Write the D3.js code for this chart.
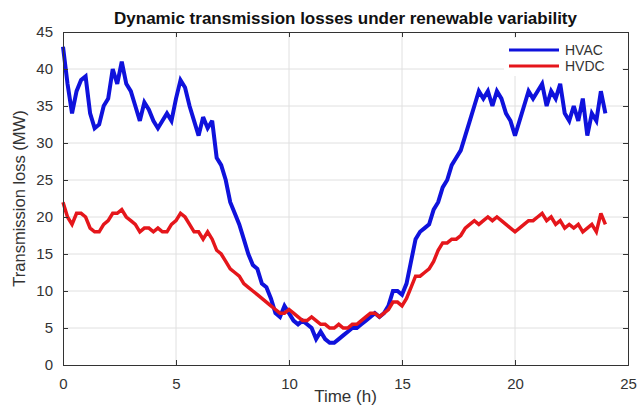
<!DOCTYPE html>
<html>
<head>
<meta charset="utf-8">
<script src="https://cdn.jsdelivr.net/npm/d3@7"></script>
<style>
  html, body { margin: 0; padding: 0; background: #fff; }
  svg { display: block; font-family: "Liberation Sans", Arial, sans-serif; }
</style>
</head>
<body>
<svg id="chart" width="640" height="407"></svg>
<script>
// Time axis, sampled every 0.2 h over one day
const timeStep = 0.2;
const seriesNames = ["HVAC", "HVDC"];
const xTicks = [0, 5, 10, 15, 20, 25];
const yTicks = [0, 5, 10, 15, 20, 25, 30, 35, 40, 45];

// Transmission loss (MW)
const hvac = [
  43, 38, 34, 37, 38.5, 39, 34, 32, 32.5, 35,
  36, 40, 38, 41, 38, 37, 35, 33, 35.5, 34.5,
  33, 32, 33, 34, 33, 36, 38.5, 37.5, 35, 33,
  31, 33.5, 32, 33, 28, 27, 25, 22, 20.5, 19,
  17, 15, 13.5, 13, 11, 10.5, 9, 7, 6.5, 8,
  7, 6, 5.5, 6, 5.5, 5, 3.5, 4.5, 3.5, 3,
  3, 3.5, 4, 4.5, 5, 5, 5.5, 6, 6.5, 7,
  6.5, 7, 8, 10, 10, 9.5, 11, 14, 17, 18,
  18.5, 19, 21, 22, 24, 25, 27, 28, 29, 31,
  33, 35, 37, 36, 37, 35, 37, 36, 34, 33,
  31, 33, 35, 37, 36, 37, 38, 35, 37, 36,
  38, 34, 33, 35, 33, 36, 31, 34, 33, 37,
  34
];
const hvdc = [
  22, 20, 19, 20.5, 20.5, 20, 18.5, 18, 18, 19,
  19.5, 20.5, 20.5, 21, 20, 19.5, 19, 18, 18.5, 18.5,
  18, 18.5, 18, 18, 19, 19.5, 20.5, 20, 19, 18,
  18, 17, 18, 17, 15.5, 15, 14, 13, 12.5, 12,
  11, 10.5, 10, 9.5, 9, 8.5, 8, 7.5, 7, 7,
  7.5, 7, 6.5, 6, 6, 6.5, 6, 5.5, 5.5, 5,
  5, 5.5, 5, 5, 5.5, 5.5, 6, 6.5, 7, 7,
  6.5, 7, 7.5, 8.5, 8.5, 8, 9, 10.5, 12, 12,
  12.5, 13, 14, 15.5, 16.5, 16.5, 17, 17, 17.5, 18.5,
  19, 19.5, 19, 19.5, 20, 19.5, 20, 19.5, 19, 18.5,
  18, 18.5, 19, 19.5, 19.5, 20, 20.5, 19.5, 20, 19,
  19.5, 18.5, 19, 18.5, 19, 18, 18.5, 19, 18, 20.5,
  19
];

const colors = { HVAC: "#0f12dc", HVDC: "#e5161b" };
const widths = { HVAC: 4, HVDC: 3.5 };

const svg = d3.select("#chart");
const margin = { left: 63, right: 12, top: 32, bottom: 42 };
const W = 640, H = 407;
const x = d3.scaleLinear().domain([0, 25]).range([margin.left, W - margin.right]);
const y = d3.scaleLinear().domain([0, 45]).range([H - margin.bottom, margin.top]);

const textColor = "#333333";
const axisColor = "#333333";
const fontStack = "'Liberation Sans', Arial, sans-serif";

// grid
const grid = svg.append("g");
grid.selectAll("line.vx").data(xTicks.slice(1, -1)).join("line")
  .attr("x1", d => x(d)).attr("x2", d => x(d))
  .attr("y1", y(0)).attr("y2", y(45))
  .attr("stroke", "#e0e0e0").attr("stroke-width", 1);
grid.selectAll("line.hy").data(yTicks.slice(1, -1)).join("line")
  .attr("x1", x(0)).attr("x2", x(25))
  .attr("y1", d => y(d)).attr("y2", d => y(d))
  .attr("stroke", "#e0e0e0").attr("stroke-width", 1);

// data lines
const line = d3.line()
  .x((d, i) => x(i * timeStep))
  .y(d => y(d));

const series = [
  { name: "HVAC", values: hvac },
  { name: "HVDC", values: hvdc }
];

svg.append("g").selectAll("path").data(series).join("path")
  .attr("d", d => line(d.values))
  .attr("fill", "none")
  .attr("stroke", d => colors[d.name])
  .attr("stroke-width", d => widths[d.name])
  .attr("stroke-linejoin", "miter")
  .attr("stroke-miterlimit", 3);

// axes (box with inward ticks)
const tickLen = -5;
const xAxisB = d3.axisBottom(x).tickValues(xTicks).tickSize(tickLen).tickPadding(13).tickFormat(d3.format("d"));
const xAxisT = d3.axisTop(x).tickValues(xTicks).tickSize(tickLen).tickFormat("");
const yAxisL = d3.axisLeft(y).tickValues(yTicks).tickSize(tickLen).tickPadding(10).tickFormat(d3.format("d"));
const yAxisR = d3.axisRight(y).tickValues(yTicks).tickSize(tickLen).tickFormat("");

function styleAxis(g) {
  g.select(".domain").attr("stroke", axisColor).attr("stroke-width", 1);
  g.selectAll(".tick line").attr("stroke", axisColor);
  g.selectAll(".tick text").attr("fill", textColor).style("font-size", "15px")
    .style("font-family", fontStack);
}

svg.append("g").attr("transform", `translate(0,${y(0)})`).call(xAxisB).call(styleAxis);
svg.append("g").attr("transform", `translate(0,${y(45)})`).call(xAxisT).call(styleAxis);
svg.append("g").attr("transform", `translate(${x(0)},0)`).call(yAxisL).call(styleAxis);
svg.append("g").attr("transform", `translate(${x(25)},0)`).call(yAxisR).call(styleAxis);

// title and axis labels
svg.append("text")
  .attr("x", (x(0) + x(25)) / 2).attr("y", 24)
  .attr("text-anchor", "middle")
  .attr("fill", "#111")
  .style("font-size", "17px").style("font-weight", "bold")
  .text("Dynamic transmission losses under renewable variability");

svg.append("text")
  .attr("x", (x(0) + x(25)) / 2).attr("y", 402)
  .attr("text-anchor", "middle")
  .attr("fill", textColor)
  .style("font-size", "17px")
  .text("Time (h)");

svg.append("text")
  .attr("transform", `translate(25,${(y(0) + y(45)) / 2}) rotate(-90)`)
  .attr("text-anchor", "middle")
  .attr("fill", textColor)
  .style("font-size", "16.5px")
  .text("Transmission loss (MW)");

// legend
const legend = svg.append("g").attr("transform", `translate(${x(25) - 124},${y(45) + 6})`);
legend.append("rect").attr("width", 118).attr("height", 38).attr("fill", "#fff");
legend.selectAll("g.item").data(seriesNames).join("g")
  .attr("transform", (d, i) => `translate(0,${12 + i * 16})`)
  .each(function (d) {
    const g = d3.select(this);
    g.append("line").attr("x1", 5).attr("x2", 55).attr("y1", 0).attr("y2", 0)
      .attr("stroke", colors[d]).attr("stroke-width", 3);
    g.append("text").attr("x", 61).attr("y", 5)
      .attr("fill", textColor).style("font-size", "14px").text(d);
  });
</script>
</body>
</html>
